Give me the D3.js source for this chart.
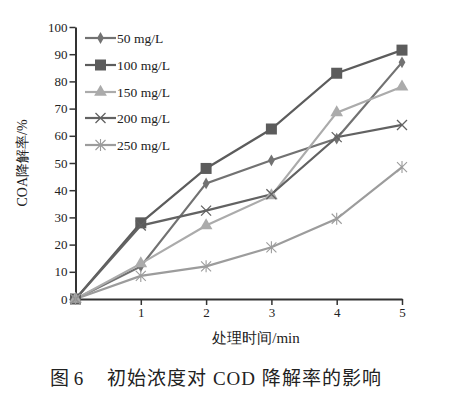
<!DOCTYPE html>
<html><head><meta charset="utf-8">
<script src="https://cdn.jsdelivr.net/npm/d3@7"></script>
<style>body{margin:0;background:#fff;}svg{display:block;}</style>
</head><body>
<svg id="c" width="449" height="393"></svg>
<script>
const times = [0, 1, 2, 3, 4, 5];
const seriesNames = ["50 mg/L", "100 mg/L", "150 mg/L", "200 mg/L", "250 mg/L"];
const s50  = [0, 12, 42.5, 51, 59, 87];
const s100 = [0, 28, 48, 62.5, 83, 91.5];
const s150 = [0, 13, 27, 38, 68.5, 78];
const s200 = [0, 27, 32.5, 38.5, 59.5, 64];
const s250 = [0, 8.5, 12, 19, 29.5, 48.5];
const yTicks = [0,10,20,30,40,50,60,70,80,90,100];
const xTicks = [1,2,3,4,5];

const colors = ["#727272", "#5c5c5c", "#ababab", "#626262", "#9c9c9c"];
const markers = ["diamond", "square", "triangle", "x", "star"];
const data = [s50, s100, s150, s200, s250];

const svg = d3.select("#c");
const x = d3.scaleLinear().domain([0,5]).range([75.5, 402]);
const y = d3.scaleLinear().domain([0,100]).range([299, 27]);
const serif = "'Liberation Serif','DejaVu Serif',serif";

const line = d3.line().x((d,i)=>x(times[i])).y(d=>y(d));
function drawMarker(g, type, cx, cy, color){
  if(type==="diamond"){
    g.append("path").attr("d", d3.symbol(d3.symbolDiamond, 40)()).attr("transform",`translate(${cx},${cy})`).attr("fill",color);
  } else if(type==="square"){
    g.append("rect").attr("x",cx-5.5).attr("y",cy-5.5).attr("width",11).attr("height",11).attr("fill",color);
  } else if(type==="triangle"){
    g.append("path").attr("d", d3.symbol(d3.symbolTriangle, 70)()).attr("transform",`translate(${cx},${cy})`).attr("fill",color);
  } else if(type==="x"){
    g.append("path").attr("d",`M${cx-5},${cy-5}L${cx+5},${cy+5}M${cx-5},${cy+5}L${cx+5},${cy-5}`).attr("stroke",color).attr("stroke-width",1.3).attr("fill","none");
  } else if(type==="star"){
    g.append("path").attr("d",`M${cx-5},${cy-5}L${cx+5},${cy+5}M${cx-5},${cy+5}L${cx+5},${cy-5}M${cx},${cy-6}L${cx},${cy+6}`).attr("stroke",color).attr("stroke-width",1.1).attr("fill","none");
  }
}

const yAxis = svg.append("g").attr("transform","translate(75.5,0)")
  .call(d3.axisLeft(y).tickValues(yTicks).tickSize(6).tickSizeOuter(0));
const xAxis = svg.append("g").attr("transform","translate(0,299)")
  .call(d3.axisBottom(x).tickValues(xTicks).tickFormat(d3.format("d")).tickSize(6).tickSizeOuter(0));
[yAxis, xAxis].forEach(a=>{
  a.selectAll("path.domain").attr("stroke","#333").attr("stroke-width",2);
  a.selectAll("line").attr("stroke","#333").attr("stroke-width",1.5);
  a.selectAll("text").attr("font-family",serif).attr("font-size",13).attr("fill","#222");
});
yAxis.selectAll("text").attr("x",-8);
xAxis.selectAll("text").attr("y",9);

const plot = svg.append("g");
data.forEach((d,k)=>{
  plot.append("path").datum(d).attr("d",line).attr("fill","none").attr("stroke",colors[k]).attr("stroke-width",2.2);
});
data.forEach((d,k)=>{
  d.forEach((v,i)=>drawMarker(plot, markers[k], x(times[i]), y(v), colors[k]));
});

const legY = [38, 65, 92, 118, 145];
seriesNames.forEach((n,k)=>{
  const g = svg.append("g");
  g.append("line").attr("x1",85).attr("x2",116).attr("y1",legY[k]).attr("y2",legY[k]).attr("stroke",colors[k]).attr("stroke-width",2.2);
  drawMarker(g, markers[k], 100.5, legY[k], colors[k]);
  g.append("text").attr("x",117).attr("y",legY[k]+4.5).text(n).attr("font-family",serif).attr("font-size",13.5).attr("fill","#222");
});

svg.append("text").attr("transform","translate(27,163) rotate(-90)").attr("text-anchor","middle")
  .attr("font-family",serif).attr("font-size",14).attr("fill","#222").text("COA降解率/%");
svg.append("text").attr("x",256).attr("y",343).attr("text-anchor","middle")
  .attr("font-family",serif).attr("font-size",15).attr("fill","#222").text("处理时间/min");
const cap = "'Liberation Serif','Noto Sans CJK SC',serif";
svg.append("text").attr("x",50).attr("y",385)
  .attr("font-family",cap).attr("font-size",19).attr("fill","#222")
  .attr("xml:space","preserve").text("图 6");
svg.append("text").attr("x",107).attr("y",385)
  .attr("font-family",cap).attr("font-size",19).attr("fill","#222")
  .attr("textLength",274).attr("lengthAdjust","spacing")
  .attr("xml:space","preserve").text("初始浓度对 COD 降解率的影响");
</script>
</body></html>
